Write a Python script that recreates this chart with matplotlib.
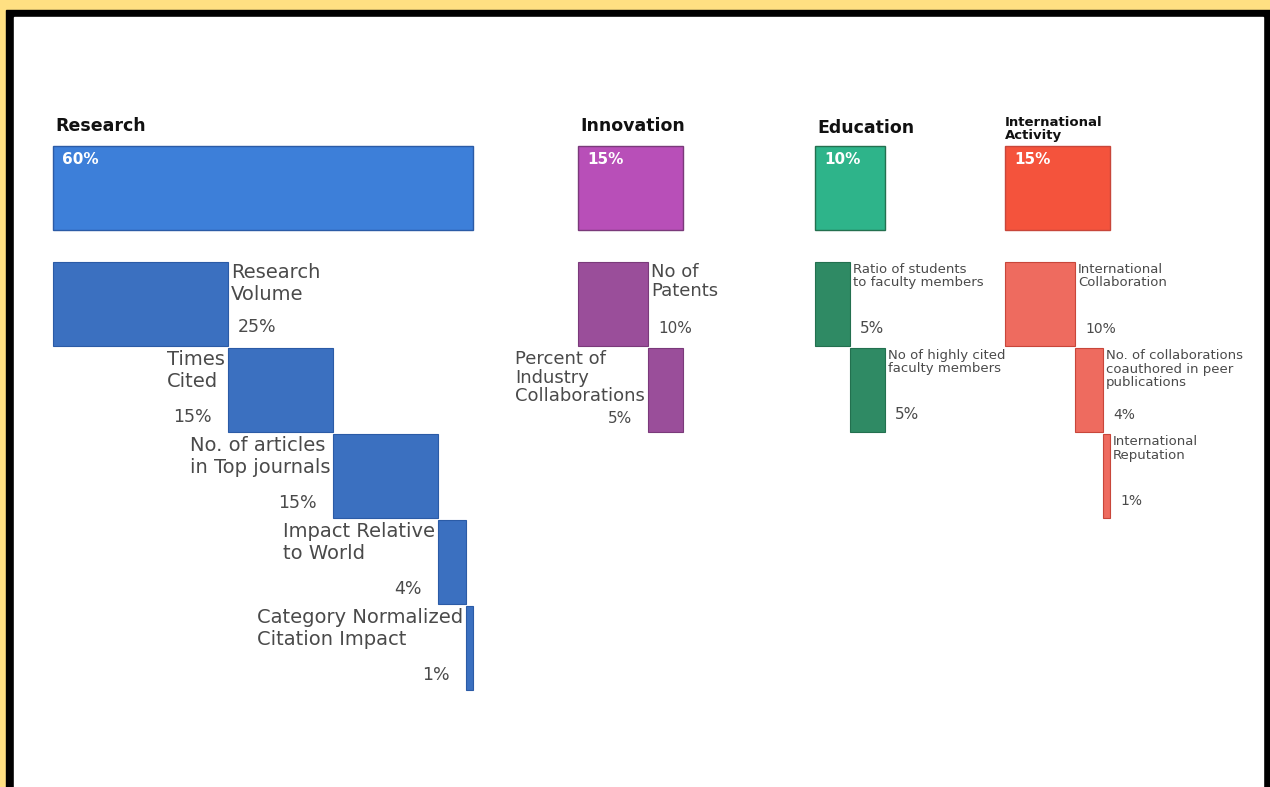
import matplotlib.pyplot as plt
from matplotlib.patches import Rectangle

# ---- data -------------------------------------------------------------
GROUPS = ['Research', 'Innovation', 'Education', 'International\nActivity']
GROUP_TOTALS = [60, 15, 10, 15]

RESEARCH_ITEMS = ['Research\nVolume', 'Times\nCited', 'No. of articles\nin Top journals',
                  'Impact Relative\nto World', 'Category Normalized\nCitation Impact']
RESEARCH_VALUES = [25, 15, 15, 4, 1]

INNOVATION_ITEMS = ['No of\nPatents', 'Percent of\nIndustry\nCollaborations']
INNOVATION_VALUES = [10, 5]

EDUCATION_ITEMS = ['Ratio of students\nto faculty members', 'No of highly cited\nfaculty members']
EDUCATION_VALUES = [5, 5]

INTL_ITEMS = ['International\nCollaboration',
              'No. of collaborations\ncoauthored in peer\npublications',
              'International\nReputation']
INTL_VALUES = [10, 4, 1]

# ---- layout / style ---------------------------------------------------
W, H = 1270, 787
PX = 7.0          # pixels per percentage point
X0 = 53           # pixel where x = 0
GROUP_LEFT = [0, 75.0, 108.9, 136.0]
TITLE_Y = [126, 126, 128, 129]
TOP_Y, BAR_H = 146, 84
SUB_Y0, ROW = 262, 86

STYLE = [
    dict(top='#3D7FD9', sub='#3B70C0', edge='#2B5BA6', fs=14, pfs=12.5, ls=1.2,
         sides=['right', 'left', 'left', 'left', 'left']),
    dict(top='#B84FB8', sub='#9A4E9A', edge='#7A3A7A', fs=13, pfs=11, ls=1.05,
         sides=['right', 'left']),
    dict(top='#2EB48A', sub='#2F8A64', edge='#23704F', fs=9.5, pfs=11, ls=1.0,
         sides=['right', 'right']),
    dict(top='#F4533C', sub='#EE6B5F', edge='#C8463A', fs=9.5, pfs=10, ls=1.05,
         sides=['right', 'right', 'right']),
]
ITEMS = [RESEARCH_ITEMS, INNOVATION_ITEMS, EDUCATION_ITEMS, INTL_ITEMS]
VALUES = [RESEARCH_VALUES, INNOVATION_VALUES, EDUCATION_VALUES, INTL_VALUES]

LABEL_COL = '#4A4A4A'
plt.rcParams['font.family'] = ['DejaVu Sans']

fig = plt.figure(figsize=(W / 100, H / 100), dpi=100)
fig.patch.set_facecolor('#FFE082')
# black frame + white canvas (figure pixels, origin bottom-left)
fig.patches.append(Rectangle((6 / W, 0), 1 - 6 / W, (H - 10) / H,
                             transform=fig.transFigure, color='black', zorder=-2))
fig.patches.append(Rectangle((14 / W, 0), (1263 - 14) / W, (H - 17) / H,
                             transform=fig.transFigure, color='white', zorder=-1))

ax = fig.add_axes([0, 0, 1, 1])
ax.set_facecolor('none')
ax.set_xlim(-X0 / PX, (W - X0) / PX)
ax.set_ylim(H, 0)
ax.axis('off')

px = 1 / PX  # one pixel in x data units

for g, name in enumerate(GROUPS):
    st = STYLE[g]
    gl = GROUP_LEFT[g]

    # group title
    if '\n' in name:
        ax.text(gl, TITLE_Y[g], name, fontsize=9.5, fontweight='bold', color='#111111',
                ha='left', va='center', linespacing=0.9)
    else:
        ax.text(gl + 2 * px, TITLE_Y[g], name, fontsize=12.5, fontweight='bold',
                color='#111111', ha='left', va='center')

    # total bar
    ax.barh(TOP_Y + BAR_H / 2, GROUP_TOTALS[g], left=gl, height=BAR_H,
            color=st['top'], edgecolor=st['edge'], linewidth=1)
    ax.text(gl + 9 * px, TOP_Y + 6, f'{GROUP_TOTALS[g]}%', fontsize=11,
            fontweight='bold', color='white', ha='left', va='top')

    # component bars, stepping down and to the right
    left = gl
    for k, (item, val) in enumerate(zip(ITEMS[g], VALUES[g])):
        y_top = SUB_Y0 + k * ROW
        ax.barh(y_top + BAR_H / 2, val, left=left, height=BAR_H,
                color=st['sub'], edgecolor=st['edge'], linewidth=0.8)
        y_bot = y_top + BAR_H
        if st['sides'][k] == 'right':
            xr = left + val
            ax.text(xr + 3 * px, y_top + 1, item, fontsize=st['fs'], color=LABEL_COL,
                    ha='left', va='top', linespacing=st['ls'])
            ax.text(xr + 10 * px, y_bot - 10, f'{val}%', fontsize=st['pfs'],
                    color=LABEL_COL, ha='left', va='bottom')
        else:
            ax.text(left - 3 * px, y_top + 2, item, fontsize=st['fs'], color=LABEL_COL,
                    ha='right', va='top', multialignment='left', linespacing=st['ls'])
            ax.text(left - 16 * px, y_bot - 6, f'{val}%', fontsize=st['pfs'],
                    color=LABEL_COL, ha='right', va='bottom')
        left += val

fig.savefig('out.png', dpi=100)
